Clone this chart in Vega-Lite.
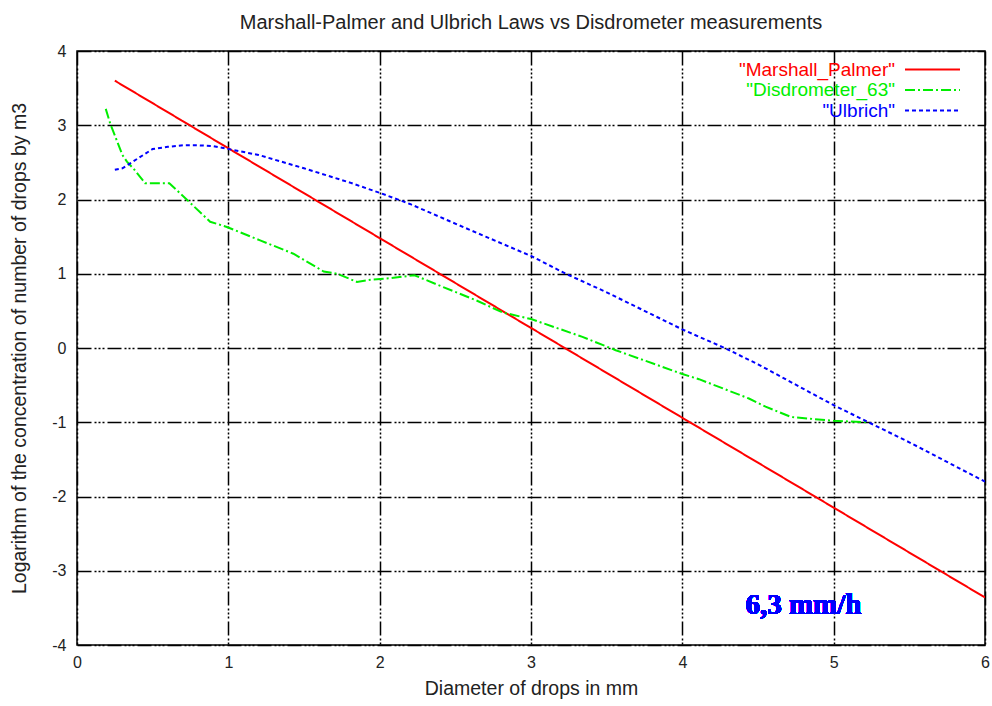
{
  "$schema": "https://vega.github.io/schema/vega-lite/v6.json",
  "width": 908,
  "height": 594,
  "autosize": {"type": "none"},
  "padding": {"left": 77, "top": 51, "right": 7, "bottom": 61},
  "background": "white",
  "title": {
    "text": "Marshall-Palmer and Ulbrich Laws vs Disdrometer measurements",
    "fontSize": 20,
    "fontWeight": "normal",
    "font": "Liberation Sans",
    "color": "#222222",
    "anchor": "middle",
    "offset": 10
  },
  "config": {
    "font": "Liberation Sans",
    "view": {"stroke": "black", "strokeWidth": 1.5},
    "axis": {
      "grid": true,
      "gridColor": "black",
      "gridOpacity": 1,
      "gridWidth": 1.5,
      "gridDash": [14, 3, 2, 2, 2, 2, 2, 3],
      "ticks": false,
      "domain": false,
      "labelFlush": false,
      "labelFontSize": 16,
      "labelColor": "#222222",
      "labelExpr": "toString(datum.value)",
      "titleFontSize": 19.5,
      "titleFontWeight": "normal",
      "titleColor": "#222222"
    }
  },
  "data": {
    "values": [
      {"series": "\"Marshall_Palmer\"", "x": 0.25, "y": 3.60},
      {"series": "\"Marshall_Palmer\"", "x": 1.0, "y": 2.69},
      {"series": "\"Marshall_Palmer\"", "x": 2.0, "y": 1.48},
      {"series": "\"Marshall_Palmer\"", "x": 3.0, "y": 0.27},
      {"series": "\"Marshall_Palmer\"", "x": 4.0, "y": -0.94},
      {"series": "\"Marshall_Palmer\"", "x": 5.0, "y": -2.15},
      {"series": "\"Marshall_Palmer\"", "x": 6.0, "y": -3.36},

      {"series": "\"Disdrometer_63\"", "x": 0.19, "y": 3.22},
      {"series": "\"Disdrometer_63\"", "x": 0.22, "y": 3.02},
      {"series": "\"Disdrometer_63\"", "x": 0.30, "y": 2.60},
      {"series": "\"Disdrometer_63\"", "x": 0.33, "y": 2.51},
      {"series": "\"Disdrometer_63\"", "x": 0.38, "y": 2.40},
      {"series": "\"Disdrometer_63\"", "x": 0.45, "y": 2.22},
      {"series": "\"Disdrometer_63\"", "x": 0.61, "y": 2.22},
      {"series": "\"Disdrometer_63\"", "x": 0.73, "y": 1.99},
      {"series": "\"Disdrometer_63\"", "x": 0.88, "y": 1.70},
      {"series": "\"Disdrometer_63\"", "x": 0.99, "y": 1.63},
      {"series": "\"Disdrometer_63\"", "x": 1.21, "y": 1.45},
      {"series": "\"Disdrometer_63\"", "x": 1.43, "y": 1.27},
      {"series": "\"Disdrometer_63\"", "x": 1.63, "y": 1.03},
      {"series": "\"Disdrometer_63\"", "x": 1.72, "y": 1.00},
      {"series": "\"Disdrometer_63\"", "x": 1.85, "y": 0.89},
      {"series": "\"Disdrometer_63\"", "x": 1.94, "y": 0.92},
      {"series": "\"Disdrometer_63\"", "x": 2.07, "y": 0.94},
      {"series": "\"Disdrometer_63\"", "x": 2.23, "y": 0.98},
      {"series": "\"Disdrometer_63\"", "x": 2.42, "y": 0.82},
      {"series": "\"Disdrometer_63\"", "x": 2.64, "y": 0.64},
      {"series": "\"Disdrometer_63\"", "x": 2.81, "y": 0.48},
      {"series": "\"Disdrometer_63\"", "x": 3.0, "y": 0.39},
      {"series": "\"Disdrometer_63\"", "x": 3.34, "y": 0.15},
      {"series": "\"Disdrometer_63\"", "x": 3.56, "y": -0.03},
      {"series": "\"Disdrometer_63\"", "x": 4.0, "y": -0.35},
      {"series": "\"Disdrometer_63\"", "x": 4.11, "y": -0.42},
      {"series": "\"Disdrometer_63\"", "x": 4.44, "y": -0.68},
      {"series": "\"Disdrometer_63\"", "x": 4.55, "y": -0.79},
      {"series": "\"Disdrometer_63\"", "x": 4.72, "y": -0.93},
      {"series": "\"Disdrometer_63\"", "x": 5.0, "y": -0.98},
      {"series": "\"Disdrometer_63\"", "x": 5.23, "y": -1.0},

      {"series": "\"Ulbrich\"", "x": 0.25, "y": 2.40},
      {"series": "\"Ulbrich\"", "x": 0.30, "y": 2.42},
      {"series": "\"Ulbrich\"", "x": 0.40, "y": 2.55},
      {"series": "\"Ulbrich\"", "x": 0.50, "y": 2.68},
      {"series": "\"Ulbrich\"", "x": 0.60, "y": 2.71},
      {"series": "\"Ulbrich\"", "x": 0.70, "y": 2.73},
      {"series": "\"Ulbrich\"", "x": 0.80, "y": 2.73},
      {"series": "\"Ulbrich\"", "x": 0.90, "y": 2.72},
      {"series": "\"Ulbrich\"", "x": 1.0, "y": 2.68},
      {"series": "\"Ulbrich\"", "x": 1.2, "y": 2.60},
      {"series": "\"Ulbrich\"", "x": 1.5, "y": 2.42},
      {"series": "\"Ulbrich\"", "x": 1.8, "y": 2.23},
      {"series": "\"Ulbrich\"", "x": 2.0, "y": 2.09},
      {"series": "\"Ulbrich\"", "x": 2.2, "y": 1.94},
      {"series": "\"Ulbrich\"", "x": 2.46, "y": 1.71},
      {"series": "\"Ulbrich\"", "x": 2.7, "y": 1.50},
      {"series": "\"Ulbrich\"", "x": 3.0, "y": 1.24},
      {"series": "\"Ulbrich\"", "x": 3.23, "y": 1.0},
      {"series": "\"Ulbrich\"", "x": 3.5, "y": 0.75},
      {"series": "\"Ulbrich\"", "x": 4.0, "y": 0.25},
      {"series": "\"Ulbrich\"", "x": 4.28, "y": 0.0},
      {"series": "\"Ulbrich\"", "x": 4.5, "y": -0.22},
      {"series": "\"Ulbrich\"", "x": 5.0, "y": -0.77},
      {"series": "\"Ulbrich\"", "x": 5.23, "y": -1.0},
      {"series": "\"Ulbrich\"", "x": 5.5, "y": -1.27},
      {"series": "\"Ulbrich\"", "x": 6.0, "y": -1.8}
    ]
  },
  "layer": [
    {
      "mark": {"type": "line", "strokeWidth": 2, "clip": true},
      "encoding": {
        "x": {
          "field": "x",
          "type": "quantitative",
          "scale": {"domain": [0, 6], "nice": false, "zero": false},
          "axis": {"values": [0, 1, 2, 3, 4, 5, 6], "title": "Diameter of drops in mm", "labelPadding": 9, "titlePadding": 9}
        },
        "y": {
          "field": "y",
          "type": "quantitative",
          "scale": {"domain": [-4, 4], "nice": false, "zero": false},
          "axis": {"values": [-4, -3, -2, -1, 0, 1, 2, 3, 4], "title": "Logarithm of the concentration of number of drops by m3", "labelPadding": 11, "titlePadding": 22}
        },
        "color": {
          "field": "series",
          "type": "nominal",
          "scale": {
            "domain": ["\"Marshall_Palmer\"", "\"Disdrometer_63\"", "\"Ulbrich\""],
            "range": ["#ff0000", "#00ee00", "#0000ff"]
          },
          "legend": {
            "title": null,
            "orient": "none",
            "legendX": 846,
            "legendY": 9,
            "padding": 0,
            "fillColor": "white",
            "symbolType": "M-4,0H4",
            "symbolSize": 189,
            "symbolStrokeWidth": 2,
            "symbolFillColor": "transparent",
            "labelAlign": "right",
            "labelOffset": -47,
            "labelFontSize": 19,
            "labelLimit": 300,
            "rowPadding": 0.5,
            "encode": {
              "labels": {"update": {"fill": {"scale": "color", "field": "value"}}}
            }
          }
        },
        "strokeDash": {
          "field": "series",
          "type": "nominal",
          "scale": {
            "domain": ["\"Marshall_Palmer\"", "\"Disdrometer_63\"", "\"Ulbrich\""],
            "range": [[1, 0], [10, 3, 2, 3], [4, 3]]
          },
          "legend": null
        },
        "order": {"field": "x", "type": "quantitative"}
      }
    },
    {
      "mark": {"type": "text", "text": "6,3 mm/h", "font": "Liberation Serif", "fontWeight": "bold", "fontSize": 29, "color": "#0000ff", "align": "center", "baseline": "middle"},
      "encoding": {
        "x": {"datum": 4.8},
        "y": {"datum": -3.46}
      }
    }
  ]
}
